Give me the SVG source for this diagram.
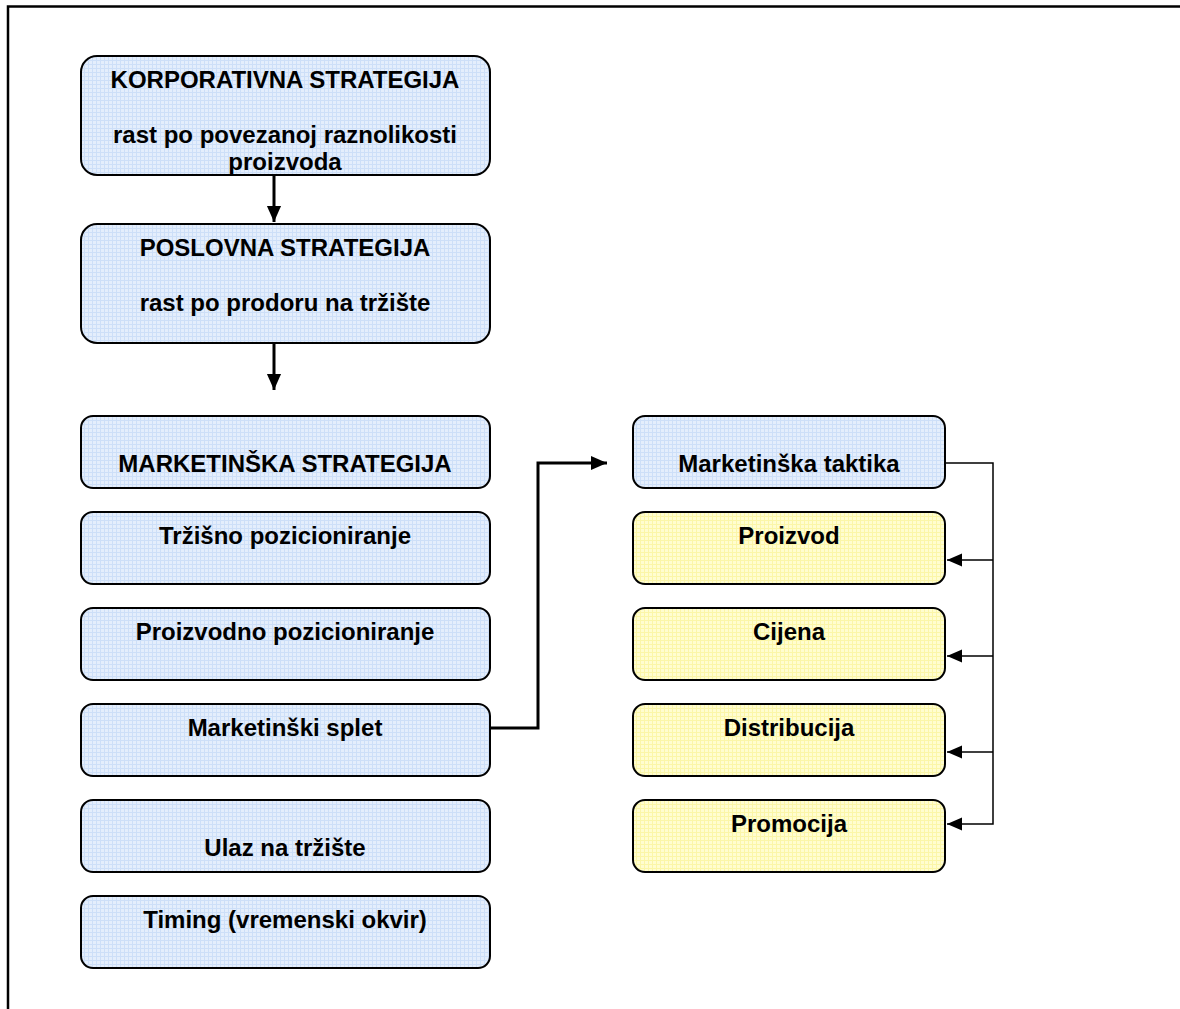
<svg xmlns="http://www.w3.org/2000/svg" width="1180" height="1009" viewBox="0 0 1180 1009">
<style>
text{font-family:"Liberation Sans",Arial,sans-serif;font-weight:bold;font-size:24px;fill:#000;text-anchor:middle}
.b{fill:url(#pb);stroke:#000;stroke-width:2}
.y{fill:url(#py);stroke:#000;stroke-width:2}
.thick{fill:none;stroke:#000;stroke-width:3}
.thin{fill:none;stroke:#000;stroke-width:1.5}
</style>
<defs>
<pattern id="pb" width="4" height="4" patternUnits="userSpaceOnUse"><rect width="4" height="4" fill="#e4eefc"/><path d="M0,0.5H4M0.5,0V4" stroke="#cddff8" stroke-width="1"/></pattern>
<pattern id="py" width="4" height="4" patternUnits="userSpaceOnUse"><rect width="4" height="4" fill="#fffdd0"/><path d="M0,0.5H4M0.5,0V4" stroke="#fbf6a8" stroke-width="1"/></pattern>
<marker id="ah" viewBox="0 0 10 10" refX="10" refY="5" markerUnits="userSpaceOnUse" markerWidth="16" markerHeight="16" orient="auto"><path d="M0,0.6L10,5L0,9.4z" fill="#000"/></marker>
<marker id="ahs" viewBox="0 0 10 10" refX="10" refY="5" markerUnits="userSpaceOnUse" markerWidth="15" markerHeight="15" orient="auto"><path d="M0,0.6L10,5L0,9.4z" fill="#000"/></marker>
</defs>
<rect width="1180" height="1009" fill="#fff"/>
<path d="M8,1009V6.5H1180" fill="none" stroke="#000" stroke-width="2.5"/>
<g id="connectors">
<path class="thick" d="M274,176V222" marker-end="url(#ah)"/>
<path class="thick" d="M274,344V390" marker-end="url(#ah)"/>
<path class="thick" d="M491,728H538V463H607" marker-end="url(#ah)"/>
<path class="thin" d="M946,463H993V824H947" marker-end="url(#ahs)"/>
<path class="thin" d="M993,560H947" marker-end="url(#ahs)"/>
<path class="thin" d="M993,656H947" marker-end="url(#ahs)"/>
<path class="thin" d="M993,752H947" marker-end="url(#ahs)"/>
</g>
<g id="n1"><rect class="b" x="81" y="56" width="409" height="119" rx="16"/><text x="285" y="88">KORPORATIVNA STRATEGIJA</text><text x="285" y="143">rast po povezanoj raznolikosti</text><text x="285" y="170">proizvoda</text></g>
<g id="n2"><rect class="b" x="81" y="224" width="409" height="119" rx="16"/><text x="285" y="256">POSLOVNA STRATEGIJA</text><text x="285" y="311">rast po prodoru na tržište</text></g>
<g id="n3"><rect class="b" x="81" y="416" width="409" height="72" rx="12"/><text x="285" y="472">MARKETINŠKA STRATEGIJA</text></g>
<g id="n4"><rect class="b" x="81" y="512" width="409" height="72" rx="12"/><text x="285" y="544">Tržišno pozicioniranje</text></g>
<g id="n5"><rect class="b" x="81" y="608" width="409" height="72" rx="12"/><text x="285" y="640">Proizvodno pozicioniranje</text></g>
<g id="n6"><rect class="b" x="81" y="704" width="409" height="72" rx="12"/><text x="285" y="736">Marketinški splet</text></g>
<g id="n7"><rect class="b" x="81" y="800" width="409" height="72" rx="12"/><text x="285" y="856">Ulaz na tržište</text></g>
<g id="n8"><rect class="b" x="81" y="896" width="409" height="72" rx="12"/><text x="285" y="928">Timing (vremenski okvir)</text></g>
<g id="n9"><rect class="b" x="633" y="416" width="312" height="72" rx="12"/><text x="789" y="472">Marketinška taktika</text></g>
<g id="n10"><rect class="y" x="633" y="512" width="312" height="72" rx="12"/><text x="789" y="544">Proizvod</text></g>
<g id="n11"><rect class="y" x="633" y="608" width="312" height="72" rx="12"/><text x="789" y="640">Cijena</text></g>
<g id="n12"><rect class="y" x="633" y="704" width="312" height="72" rx="12"/><text x="789" y="736">Distribucija</text></g>
<g id="n13"><rect class="y" x="633" y="800" width="312" height="72" rx="12"/><text x="789" y="832">Promocija</text></g>
</svg>
